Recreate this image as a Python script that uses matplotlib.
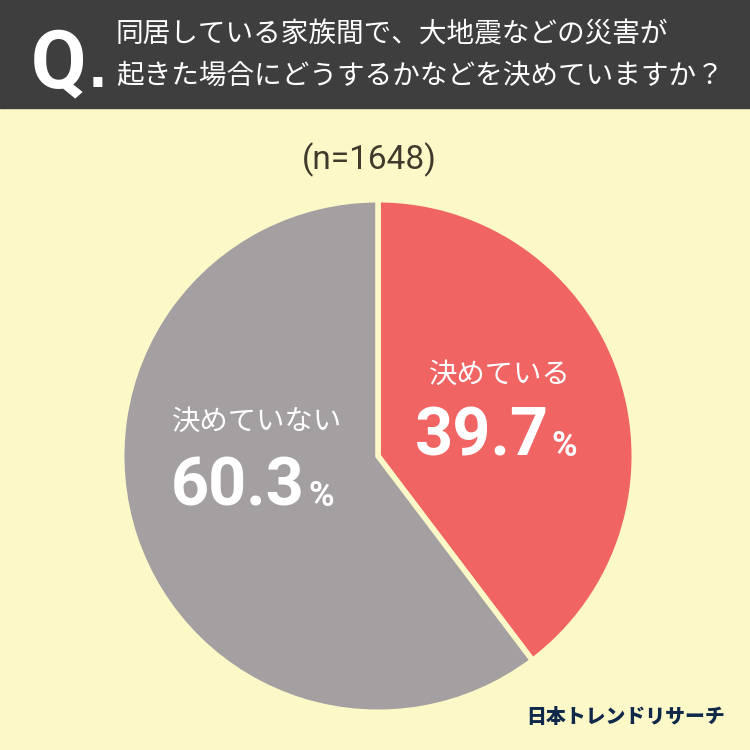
import matplotlib
matplotlib.use("Agg")
import matplotlib.pyplot as plt
from matplotlib.patches import Rectangle

labels = ["決めている", "決めていない"]
values = [39.7, 60.3]
value_texts = ["39.7", "60.3"]
colors = ["#f16464", "#a4a0a1"]
question = ["同居している家族間で、大地震などの災害が", "起きた場合にどうするかなどを決めていますか？"]
sample = "(n=1648)"
brand = "日本トレンドリサーチ"

BG = "#fdf8c8"
JP = ["Noto Sans CJK JP", "DejaVu Sans"]
NUM = ["Roboto", "DejaVu Sans"]

fig = plt.figure(figsize=(7.5, 7.5), dpi=100, facecolor=BG)
ax = fig.add_axes([0, 0, 1, 1])

# header band, y measured from the top of the picture
ax.add_patch(Rectangle((0, 750 - 108), 750, 108, color="#3e3e3e", zorder=1))
ax.text(31, 750 - 87, "Q", family=NUM, fontsize=58, fontweight="bold", color="white", va="baseline", zorder=3)
ax.text(88.5, 750 - 87, ".", family="Liberation Sans", fontsize=46, fontweight="bold", color="white", va="baseline", zorder=3)
ax.text(116, 750 - 43, question[0], family=JP, fontsize=19.9, color="white", va="baseline", zorder=3)
ax.text(116, 750 - 84, question[1], family=JP, fontsize=19.9, color="white", va="baseline", zorder=3)

ax.text(369, 750 - 169, sample, family=NUM, fontsize=24, color="#3f3a2c", ha="center", va="baseline")

ax.pie(values, colors=colors, startangle=90, counterclock=False, center=(378, 750 - 456), radius=256.3,
       wedgeprops=dict(edgecolor=BG, linewidth=4), frame=True)
ax.set_xlim(0, 750)
ax.set_ylim(0, 750)
ax.set_aspect("equal")
ax.axis("off")

ax.text(500, 750 - 383, labels[0], family=JP, fontsize=20.4, color="white", ha="center", va="baseline")
ax.text(257.5, 750 - 430, labels[1], family=JP, fontsize=20.4, color="white", ha="center", va="baseline")

ax.text(549, 750 - 456, value_texts[0], family=NUM, fontsize=48, fontweight="bold", color="white", ha="right", va="baseline")
ax.text(551, 750 - 456, "%", family=NUM, fontsize=25, fontweight="bold", color="white", ha="left", va="baseline")
ax.text(305, 750 - 506, value_texts[1], family=NUM, fontsize=48, fontweight="bold", color="white", ha="right", va="baseline")
ax.text(308, 750 - 506, "%", family=NUM, fontsize=25, fontweight="bold", color="white", ha="left", va="baseline")

ax.text(625.5, 750 - 723, brand, family=JP, fontsize=14.3, fontweight="black", color="#10294a", ha="center", va="baseline")

fig.savefig("out.png", dpi=100, facecolor=BG)
